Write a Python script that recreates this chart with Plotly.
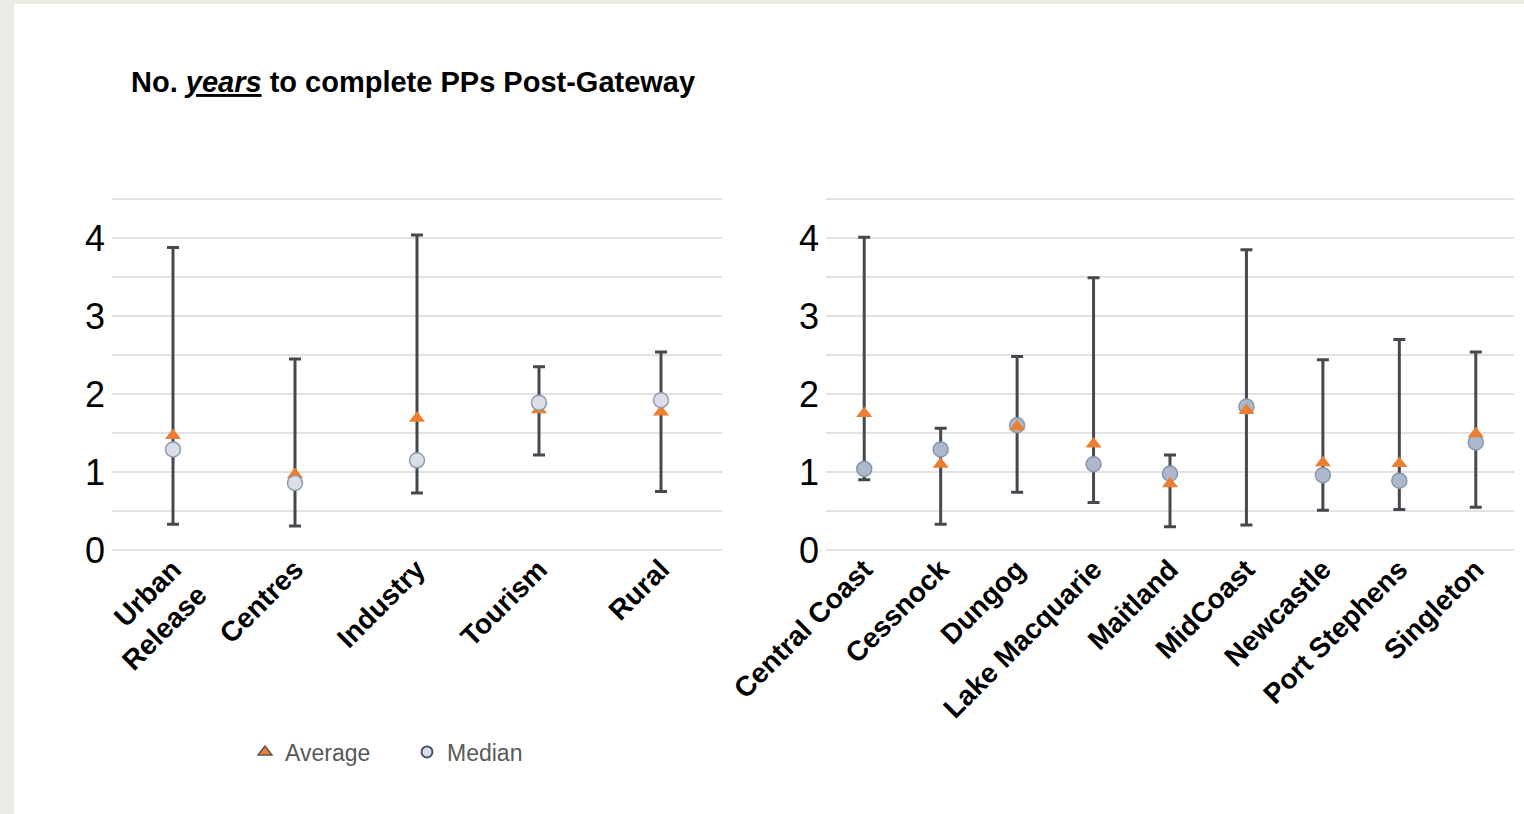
import plotly.graph_objects as go

# ---- data ----
types = ["Urban<br>Release", "Centres", "Industry", "Tourism", "Rural"]
type_max = [3.88, 2.45, 4.04, 2.35, 2.54]
type_min = [0.33, 0.31, 0.73, 1.22, 0.75]
type_avg = [1.47, 0.97, 1.69, 1.80, 1.77]
type_med = [1.29, 0.86, 1.15, 1.89, 1.92]

councils = ["Central Coast", "Cessnock", "Dungog", "Lake Macquarie", "Maitland",
            "MidCoast", "Newcastle", "Port Stephens", "Singleton"]
coun_max = [4.01, 1.56, 2.48, 3.49, 1.22, 3.85, 2.44, 2.70, 2.54]
coun_min = [0.90, 0.33, 0.74, 0.61, 0.30, 0.32, 0.51, 0.52, 0.55]
coun_avg = [1.75, 1.10, 1.58, 1.36, 0.85, 1.79, 1.12, 1.11, 1.49]
coun_med = [1.04, 1.29, 1.60, 1.10, 0.98, 1.84, 0.96, 0.89, 1.38]

y_ticks = [0, 0.5, 1, 1.5, 2, 2.5, 3, 3.5, 4, 4.5]
y_text = ["0", "", "1", "", "2", "", "3", "", "4", ""]

title = "<b>No. <i><u>years</u></i> to complete PPs Post-Gateway</b>"

# ---- styles ----
W, H = 1524, 814
ORANGE = "#ED7D31"
BAR = "#45494f"
MED_L_FILL, MED_L_EDGE = "#D9DEE7", "#8C9BB0"
MED_R_FILL, MED_R_EDGE = "#ADB9CA", "#8497B0"
FONT = "Liberation Sans, Arial"


def px_x(p):
    return p / W


def px_y(p):
    return (H - p) / H


fig = go.Figure()


def range_trace(cats, lo, hi, xa, ya):
    return go.Scatter(
        x=cats, y=lo, mode="markers", xaxis=xa, yaxis=ya, showlegend=False,
        marker=dict(size=1, opacity=0), hoverinfo="skip",
        error_y=dict(type="data", symmetric=False,
                     array=[h - l for h, l in zip(hi, lo)],
                     arrayminus=[0] * len(lo),
                     color=BAR, thickness=3, width=6))


def avg_trace(cats, vals, xa, ya):
    return go.Scatter(x=cats, y=vals, mode="markers", xaxis=xa, yaxis=ya,
                      showlegend=False, name="Average",
                      marker=dict(symbol="triangle-up", size=14, color=ORANGE,
                                  line=dict(width=0)))


def med_trace(cats, vals, xa, ya, fill, edge):
    return go.Scatter(x=cats, y=vals, mode="markers", xaxis=xa, yaxis=ya,
                      showlegend=False, name="Median",
                      marker=dict(symbol="circle", size=15, color=fill,
                                  line=dict(width=1.5, color=edge)))


# left chart: average under median
fig.add_trace(range_trace(types, type_min, type_max, "x", "y"))
fig.add_trace(avg_trace(types, type_avg, "x", "y"))
fig.add_trace(med_trace(types, type_med, "x", "y", MED_L_FILL, MED_L_EDGE))

# right chart: median under average
fig.add_trace(range_trace(councils, coun_min, coun_max, "x2", "y2"))
fig.add_trace(med_trace(councils, coun_med, "x2", "y2", MED_R_FILL, MED_R_EDGE))
fig.add_trace(avg_trace(councils, coun_avg, "x2", "y2"))

# legend entries
fig.add_trace(go.Scatter(x=[None], y=[None], mode="markers", name="Average",
                         marker=dict(symbol="triangle-up", size=12, color=ORANGE,
                                     line=dict(width=1.5, color="#595959"))))
fig.add_trace(go.Scatter(x=[None], y=[None], mode="markers", name="Median",
                         marker=dict(symbol="circle", size=11, color=MED_L_FILL,
                                     line=dict(width=2, color="#44546A"))))

ydom = [px_y(552.4), px_y(196.7)]
yax = dict(range=[-0.03, 4.53], tickvals=y_ticks, ticktext=y_text, showgrid=True,
           gridcolor="#E2E2E2", gridwidth=2, zeroline=False, showline=False,
           ticks="", ticklabelstandoff=6,
           tickfont=dict(family=FONT, size=36, color="#000"),
           automargin=False, domain=ydom, fixedrange=True)
xax = dict(type="category", showgrid=False, zeroline=False, showline=False, ticks="",
           tickangle=-45, automargin=False, fixedrange=True, ticklabelstandoff=-6,
           tickfont=dict(family=FONT, size=28, color="#000", weight="bold"))

fig.update_layout(
    width=W, height=H,
    margin=dict(l=0, r=0, t=0, b=0),
    paper_bgcolor="white", plot_bgcolor="white",
    xaxis=dict(xax, domain=[px_x(112), px_x(722)], range=[-0.5, 4.5]),
    yaxis=dict(yax, anchor="x"),
    xaxis2=dict(xax, domain=[px_x(826), px_x(1514)], range=[-0.5, 8.5]),
    yaxis2=dict(yax, anchor="x2"),
    legend=dict(orientation="h", x=px_x(245), y=px_y(752), yanchor="middle",
                xanchor="left", font=dict(family=FONT, size=23, color="#595959"),
                bgcolor="rgba(0,0,0,0)", itemwidth=30, entrywidth=117),
    showlegend=True,
    annotations=[dict(text=title, x=px_x(129), y=px_y(82), xref="paper", yref="paper",
                      xanchor="left", yanchor="middle", showarrow=False,
                      font=dict(family=FONT, size=29, color="#000"))],
    shapes=[
        dict(type="rect", xref="paper", yref="paper", x0=0, x1=px_x(14), y0=0, y1=1,
             fillcolor="#EBEBE6", line=dict(width=0), layer="below"),
        dict(type="rect", xref="paper", yref="paper", x0=0, x1=1, y0=px_y(4), y1=1,
             fillcolor="#EBEBE6", line=dict(width=0), layer="below"),
    ],
)

fig.write_html("out.html", config={"displayModeBar": False},
               post_script="document.body.style.margin='0px';")
